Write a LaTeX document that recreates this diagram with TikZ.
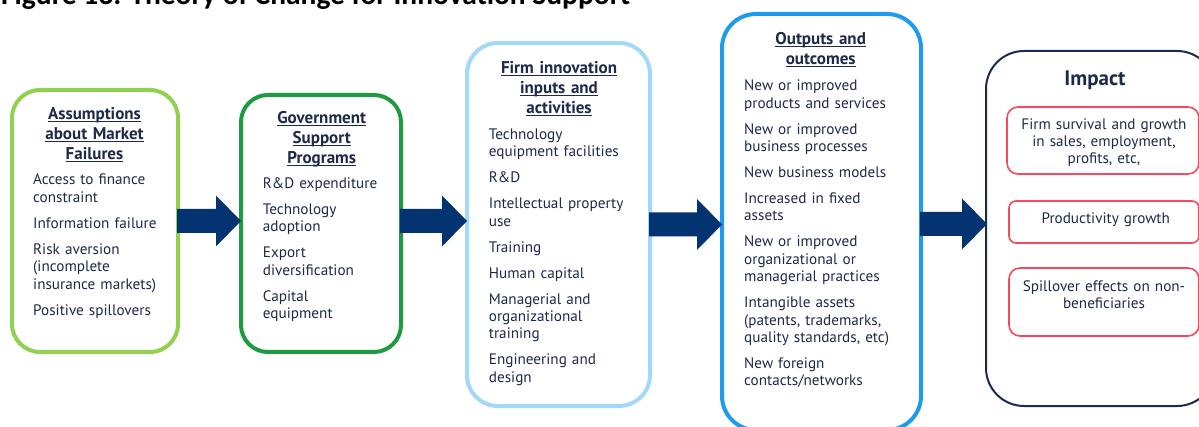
\documentclass[tikz,border=0pt]{standalone}
\usepackage{fontspec}
\setmainfont{PT Sans}
\newfontfamily\titlefont{Carlito}

\definecolor{leafgreen}{HTML}{92D050}
\definecolor{deepgreen}{HTML}{1E9B3E}
\definecolor{paleblue}{HTML}{A3D8F8}
\definecolor{skyblue}{HTML}{1E9BEA}
\definecolor{impactnavy}{HTML}{1B2B4F}
\definecolor{redline}{HTML}{F8485E}
\definecolor{arrownavy}{HTML}{033371}
\definecolor{inknavy}{HTML}{1E2A4A}

% underlined heading line
\newcommand{\ulhead}[1]{\leavevmode\setbox0\hbox{#1}\rlap{\rule[-2.5pt]{\wd0}{0.9pt}}\box0}
% space between two list entries
\newcommand{\itemgap}{\\[8.6pt]}
% thick block arrow between two boxes, at height #3
\newcommand{\flowarrow}[3]{%
	\coordinate (tail) at (#1.east |- 0,#3);
	\coordinate (tip) at (#2.west |- 0,#3);
	\fill[arrownavy] ([xshift=-3pt,yshift=12pt]tail) -- ([xshift=-23pt,yshift=12pt]tip) -- ([xshift=-23pt,yshift=25.5pt]tip) -- ([xshift=2pt]tip) -- ([xshift=-23pt,yshift=-25.5pt]tip) -- ([xshift=-23pt,yshift=-12pt]tip) -- ([xshift=-3pt,yshift=-12pt]tail) -- cycle;}

\begin{document}
\begin{tikzpicture}[x=1pt, y=-1pt,
		stage/.style={draw, line width=4pt, fill=white},
		redbox/.style={draw=redline, line width=1.6pt},
		head/.style={font=\fontsize{17}{20}\selectfont\bfseries, text=inknavy, align=center, inner sep=0pt, anchor=base, text width=180pt},
		items/.style={font=\fontsize{15.2}{17.4}\selectfont, text=inknavy, align=left, inner sep=0pt, anchor=base west, text width=180pt},
		effect/.style={font=\fontsize{15.2}{16.6}\selectfont, text=inknavy, align=center, inner sep=0pt, anchor=base, text width=190pt}]
	
	\clip (0,0) rectangle (1199,427);
	
	\node[anchor=base west, inner sep=0pt, font=\titlefont\fontsize{29.5}{30}\selectfont\bfseries] (title) at (1,5) {Figure 13: Theory of Change for Innovation Support};
	
	\node[stage, draw=leafgreen, rounded corners=28pt, minimum width=166pt, minimum height=262pt] (fail) at (95,221) {};
	\node[stage, draw=deepgreen, rounded corners=27pt, minimum width=160pt, minimum height=257pt] (gov) at (321,223.5) {};
	\node[stage, draw=paleblue, rounded corners=31pt, minimum width=183pt, minimum height=363pt] (firm) at (558.5,224.5) {};
	\node[stage, draw=skyblue, rounded corners=34pt, minimum width=199pt, minimum height=416pt] (out) at (821.5,222) {};
	\node[draw=impactnavy, line width=2pt, rounded corners=38pt, minimum width=229pt, minimum height=355pt] (impact) at (1100.5,228.5) {};
	
	\flowarrow{fail}{gov}{221}
	\flowarrow{gov}{firm}{221}
	\flowarrow{firm}{out}{224.5}
	\flowarrow{out}{impact}{224}
	
	% market failures
	\node[head] (failhead) at (94.5,119.3) {\ulhead{Assumptions}\\\ulhead{about Market}\\\ulhead{Failures}};
	\node[items] (faillist) at (33,185) {Access to finance\\constraint\itemgap Information failure\itemgap Risk aversion\\(incomplete\\insurance markets)\itemgap Positive spillovers};
	
	% support programs
	\node[head] (govhead) at (321.7,123.3) {\ulhead{Government}\\\ulhead{Support}\\\ulhead{Programs}};
	\node[items] (govlist) at (262.7,188.3) {R\&D expenditure\itemgap Technology\\adoption\itemgap Export\\diversification\itemgap Capital\\equipment};
	
	% inputs and activities
	\node[head] (firmhead) at (559,73.3) {\ulhead{Firm innovation}\\\ulhead{inputs and}\\\ulhead{activities}};
	\node[items] (firmlist) at (488.7,139.3) {Technology\\equipment facilities\itemgap R\&D\itemgap Intellectual property\\use\itemgap Training\itemgap Human capital\itemgap Managerial and\\organizational\\training\itemgap Engineering and\\design};
	
	% outputs and outcomes
	\node[head] (outhead) at (820.7,44.3) {\ulhead{Outputs and}\\\ulhead{outcomes}};
	\node[items] (outlist) at (744,90.7) {New or improved\\products and services\itemgap New or improved\\business processes\itemgap New business models\itemgap Increased in fixed\\assets\itemgap New or improved\\organizational or\\managerial practices\itemgap Intangible assets\\(patents, trademarks,\\quality standards, etc)\itemgap New foreign\\contacts/networks};
	
	% impact
	\node[anchor=base, inner sep=0pt, text=inknavy, font=\fontsize{21}{24}\selectfont\bfseries] (impacthead) at (1095,86) {Impact};
	
	\node[redbox, rounded corners=11pt, minimum width=192pt, minimum height=67pt] (growth) at (1103,140.5) {};
	\node[redbox, rounded corners=7pt, minimum width=190pt, minimum height=42pt] (prod) at (1104,222) {};
	\node[redbox, rounded corners=11pt, minimum width=190pt, minimum height=68pt] (spill) at (1104,302) {};
	
	\node[effect] (growthtext) at (1104,130) {Firm survival and growth\\in sales, employment,\\profits, etc,};
	\node[effect] (prodtext) at (1105.7,223.3) {Productivity growth};
	\node[effect] (spilltext) at (1104,291.7) {Spillover effects on non-\\beneficiaries};
	
\end{tikzpicture}
\end{document}
